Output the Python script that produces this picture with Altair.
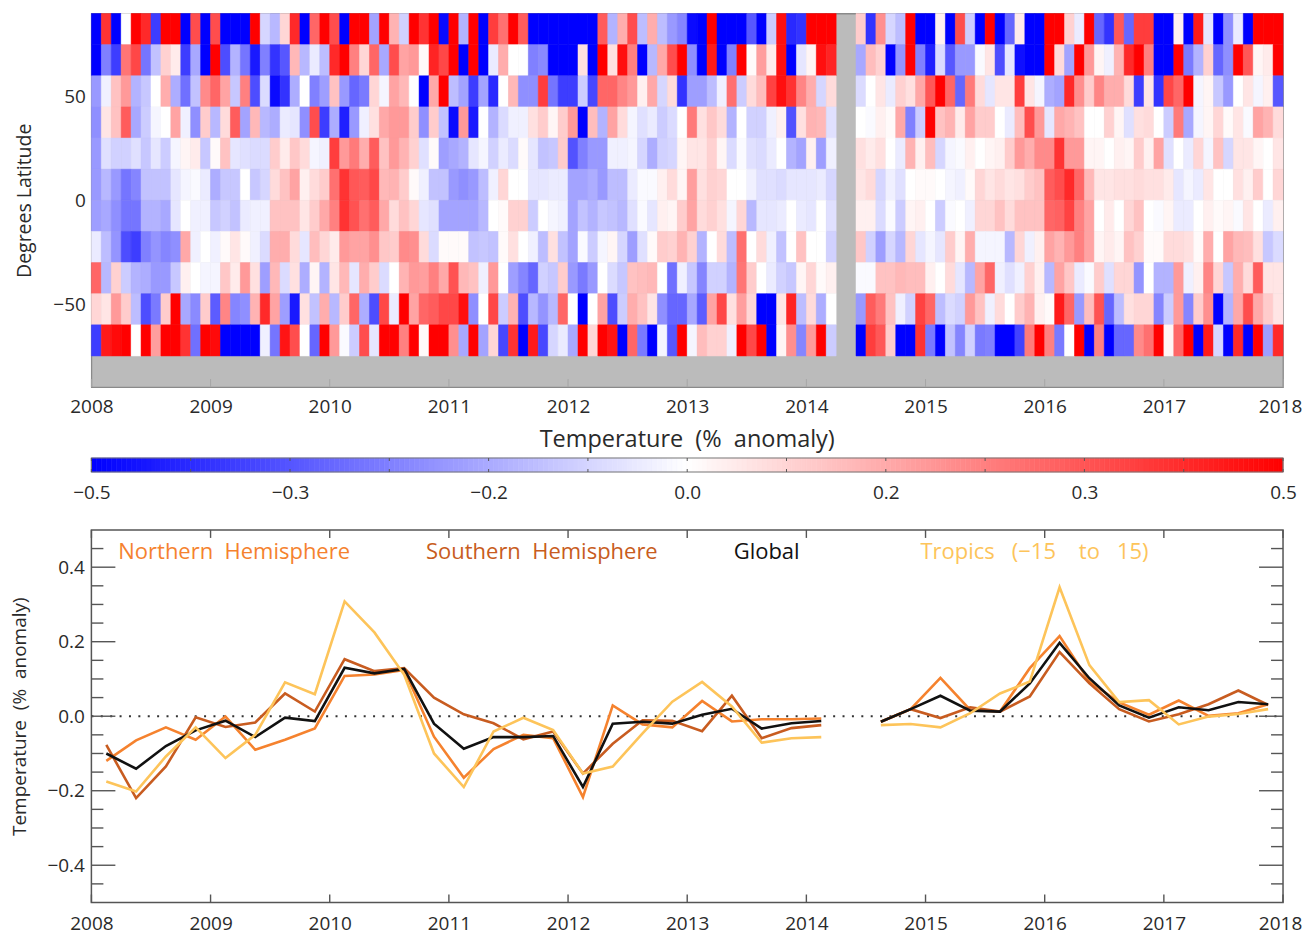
import altair as alt
import numpy as np
import pandas as pd

FONT = "Open Sans"
TXT = "#2a2a2a"
FRAME = "#555555"
W = 1193
NB = "\u00a0\u00a0"
NB3 = "\u00a0\u00a0\u00a0"

GAP = [None, None]
lat_75_90 = [-50,40,-50,0,50,42,-38,50,50,-50,35,-50,35,-50,-50,-50,50,-8,-14,8,42,-50,30,50,35,-50,50,50,-18,50,15,-9,50,40,50,-48,50,-15,50,-50,
 38,28,50,32,-50,-50,-50,-50,-50,-50,-50,32,-15,16,35,-13,16,-13,-20,-24,-48,-50,50,-50,-50,-50,-33,-50,-10,47,-42,-40,50,50,50] + GAP + [
 10,-40,22,-8,-13,50,-50,-50,3,-50,35,-10,-50,50,-50,-30,4,-50,-50,50,50,9,-4,50,-30,-40,33,-30,38,38,-50,-50,3,-50,45,-5,-50,-22,-4,-50,50,50,50]
lat_60_75 = [-50,-25,-38,27,36,-27,-12,9,4,-38,-17,-50,50,-35,-15,-27,-45,-25,-40,-33,14,-14,-4,-13,42,50,25,8,30,-17,35,18,20,1,43,36,50,-50,50,-50,
 -4,16,0,0,-25,-23,-50,-50,-50,6,-50,50,6,47,25,-50,-14,17,35,50,-22,-50,45,-50,-25,50,1,19,4,47,-50,-5,2,47,43] + GAP + [
 -17,13,9,-50,-21,50,-25,-44,-7,-33,-20,-20,-1,5,-35,-5,-47,-50,-50,50,7,-18,50,20,2,-3,15,42,50,25,-50,-50,50,-26,-15,9,-30,-22,50,33,2,4,50]
lat_45_60 = [-20,-3,12,20,-15,-11,0,16,-16,-28,-12,23,30,18,-11,25,-35,-7,-48,-40,-16,0,-25,-19,12,-20,-30,-26,8,-2,18,14,0,-50,17,50,-13,-18,-38,-18,
 -42,0,14,-22,-22,38,-27,-38,-38,-10,-36,30,30,24,20,3,17,-8,7,-40,-19,-19,-13,-3,28,-10,7,13,37,47,40,24,16,-8,7] + GAP + [
 -7,0,5,-4,9,6,17,33,50,30,-30,26,7,-5,5,5,38,5,-2,-16,-18,42,22,10,24,16,16,7,-38,5,-40,36,30,50,-2,2,-11,-20,0,5,-2,3,-33]
lat_30_45 = [-22,5,12,32,-17,-10,-2,0,18,-3,-22,10,-14,7,32,-18,14,-14,-16,-4,-5,-22,35,-38,-16,-44,-20,-3,6,17,20,20,10,-22,10,-12,-48,20,-45,0,
 -15,-7,-3,-3,6,10,2,10,20,-50,13,-15,18,7,-2,-6,-4,-10,-7,0,26,6,11,7,-15,0,-9,-9,-3,3,-34,6,15,14,-6] + GAP + [
 0,-1,3,1,17,-25,-10,50,12,15,4,18,10,10,0,-4,13,35,20,-5,17,15,12,0,0,9,2,-6,6,7,0,-10,26,-17,-2,2,8,1,5,-1,18,15,7]
lat_15_30 = [-20,-6,-9,-9,-6,-11,-5,-10,-2,2,4,-11,1,12,-5,-6,-7,-7,10,4,11,7,-2,-3,38,20,26,16,32,12,20,15,9,-6,1,-19,-17,-15,-5,-2,
 -9,-4,-7,1,-5,-12,-11,10,-34,-25,-20,-20,-3,-3,-2,-8,-16,-9,-8,2,5,5,9,2,-7,-1,-6,-7,-4,0,-15,-18,3,-19,-3] + GAP + [
 6,4,6,0,-4,15,3,13,-8,-2,-1,3,0,2,3,10,20,16,23,23,40,20,20,2,2,0,3,2,10,3,18,-6,0,-4,8,-2,12,-8,5,5,2,0,5]
lat_0_15 = [-20,-14,-20,-27,-24,-12,-12,-12,-5,-2,-1,-4,-16,-11,-11,0,-11,-8,7,12,18,3,7,10,28,40,33,32,36,14,15,10,1,-3,-12,-12,-20,-22,-20,-13,
 -3,8,0,0,-5,-5,-4,-4,-18,-18,-16,-20,-13,-13,-4,-1,-1,3,7,2,19,6,9,8,0,0,-3,-6,-6,-7,-5,-5,-5,-4,-8] + GAP + [
 5,7,-8,-3,-6,0,1,1,0,-2,-3,1,8,5,7,5,6,10,12,32,35,42,30,14,5,5,6,6,7,6,6,4,-5,-2,-4,5,0,0,6,3,10,0,8]
lat_m15_0 = [-19,-17,-22,-27,-27,-15,-15,-17,-5,0,-3,-3,-11,-9,-12,-4,-3,-3,12,12,12,5,10,17,25,40,34,28,32,17,7,12,8,-5,-6,-18,-18,-18,-18,-14,
 0,1,9,9,-10,0,-2,-3,-18,-12,-15,-11,-12,-14,-6,-1,-5,3,2,10,18,7,9,6,-2,8,-14,-5,-5,-4,0,-4,-5,0,-6] + GAP + [
 3,3,-7,-1,-10,2,3,0,-10,-1,0,-3,8,8,12,7,12,12,12,30,31,37,25,18,0,4,0,8,12,0,-1,2,-4,-4,0,3,1,2,-1,5,0,-4,3]
lat_m30_m15 = [-4,-13,-21,-35,-38,-25,-21,-24,-22,17,-3,0,-3,1,5,1,-3,-7,16,16,7,-5,13,8,4,20,18,18,22,11,10,23,22,7,-7,1,1,1,-12,-11,
 -12,1,6,0,-3,-13,6,-12,-18,-1,-10,-2,2,-8,-19,-6,1,10,9,15,9,-15,0,7,-13,28,0,7,-3,-12,0,12,0,0,-9] + GAP + [
 11,-9,-19,-8,-14,8,-5,-2,-5,10,2,16,-2,-2,-2,-14,8,-3,3,18,15,20,25,18,2,4,2,12,9,1,1,7,7,6,1,16,0,18,14,13,6,-11,-7]
lat_m45_m30 = [30,-14,9,-10,-15,-16,-20,-20,-11,3,0,-2,-2,11,4,20,6,-19,14,-7,6,-16,2,-15,5,14,-5,16,10,-7,0,15,20,19,25,17,34,14,12,-3,
 20,0,-19,-24,-30,-9,-11,10,-20,-26,-20,0,-7,-11,12,13,14,0,-28,-3,-11,-24,-9,-9,-15,27,10,0,-4,-9,-11,2,8,1,3] + GAP + [
 -1,-1,12,12,14,13,13,3,0,7,-5,-14,18,30,-3,-6,-3,9,3,-14,18,11,-4,-1,10,-6,8,8,-21,0,-15,-15,20,-3,3,24,8,-11,16,7,32,5,5]
lat_m60_m45 = [8,5,20,10,-13,-35,-26,10,50,-17,-23,10,-32,24,-24,-22,15,42,18,-19,-45,6,-12,16,-14,10,30,-16,-35,36,-4,50,18,30,32,36,36,47,-22,0,
 36,-10,15,-35,-14,-21,-14,30,0,-50,0,18,-35,-10,16,12,5,-22,-30,-30,-17,-32,18,36,6,19,8,-50,-50,5,43,-13,7,-16,0] + GAP + [
 -20,32,26,12,-3,-9,37,30,-13,-7,-9,20,12,-3,7,0,10,15,3,1,45,30,-20,13,34,-30,-13,6,8,8,-24,-10,20,-24,10,22,-50,-15,17,35,17,10,5]
lat_m75_m60 = [-38,45,48,50,0,50,19,50,50,40,-28,50,48,-50,-50,-50,-50,-3,-27,46,35,0,-30,50,20,-1,-10,35,-5,50,50,25,50,1,50,50,22,-17,50,-18,
 8,-36,40,-50,45,-36,-8,-4,-17,50,8,50,46,-50,30,-26,-50,-2,-33,50,-2,13,9,9,-3,50,36,50,-50,2,22,-24,20,50,-10] + GAP + [
 -50,38,33,10,-50,-50,40,-26,-50,-12,-24,-9,-26,-25,-50,-50,-37,26,50,25,-26,0,50,-50,25,-50,-30,-30,23,28,50,2,30,50,-50,45,-8,-50,42,-50,50,-19,42]
lat_m90_m75 = [None] * 120

rows = [
    (75, 90, lat_75_90), (60, 75, lat_60_75), (45, 60, lat_45_60), (30, 45, lat_30_45),
    (15, 30, lat_15_30), (0, 15, lat_0_15), (-15, 0, lat_m15_0), (-30, -15, lat_m30_m15),
    (-45, -30, lat_m45_m30), (-60, -45, lat_m60_m45), (-75, -60, lat_m75_m60), (-90, -75, lat_m90_m75),
]

# quarterly series, first stretch 2008.125..2014.125, second 2014.625..2017.875
nh_a = [-.12,-.065,-.03,-.063,-.001,-.09,-.063,-.033,.108,.112,.124,-.055,-.165,-.088,-.05,-.059,-.217,.029,-.022,-.03,.041,-.014,-.008,-.008,-.006]
sh_a = [-.077,-.22,-.135,-.003,-.029,-.017,.061,.0125,.153,.121,.129,.05,.005,-.019,-.062,-.041,-.154,-.074,-.011,-.0125,-.04,.055,-.059,-.032,-.024]
gl_a = [-.10,-.141,-.08,-.038,-.012,-.056,-.004,-.013,.13,.115,.127,-.02,-.0875,-.056,-.056,-.053,-.19,-.02,-.015,-.02,.004,.02,-.033,-.019,-.013]
tr_a = [-.175,-.202,-.108,-.03,-.1125,-.05,.091,.059,.308,.225,.111,-.1,-.19,-.041,-.004,-.037,-.154,-.135,-.046,.039,.092,.026,-.071,-.059,-.056]
nh_b = [-.015,.019,.103,.017,.0125,.129,.215,.093,.037,.004,.042,.001,.008,.032]
sh_b = [-.015,.019,-.005,.024,.0125,.053,.172,.088,.019,-.014,.005,.032,.069,.030]
gl_b = [-.015,.019,.055,.015,.0125,.088,.197,.102,.029,-.004,.024,.016,.038,.032]
tr_b = [-.024,-.021,-.03,.008,.061,.093,.346,.137,.038,.043,-.022,-.001,.006,.019]

series = [
    ("Northern" + NB + "Hemisphere", "#F5822E", nh_a, nh_b, 2008.226),
    ("Southern" + NB + "Hemisphere", "#C85C20", sh_a, sh_b, 2010.808),
    ("Global", "#111111", gl_a, gl_b, 2013.39),
    ("Tropics" + NB3 + "(\u221215" + NB + NB + "to" + NB3 + "15)", "#FDC45A", tr_a, tr_b, 2014.957),
]
years = list(range(2008, 2019))

cells = []
for lo, hi, vals in rows:
    assert len(vals) == 120, (lo, len(vals))
    for m, v in enumerate(vals):
        if v is not None:
            cells.append({"x": 2008 + m / 12, "x2": 2008 + (m + 1) / 12, "y": lo, "y2": hi, "v": v / 100})
heat_df = pd.DataFrame(cells)

color_scale = alt.Scale(domain=[-0.5, 0, 0.5], range=["#0000ff", "#ffffff", "#ff0000"], clamp=True, interpolate="rgb")
xs = alt.Scale(domain=[2008, 2018], nice=False)


def xaxis(pad):
    return alt.Axis(values=years, format="d", tickSize=0, labelPadding=pad, domain=False, grid=False, title=None,
                    labelFont=FONT, labelFontSize=19, labelColor=TXT, labelFlush=False, labelOverlap=False,
                    labelOffset={"condition": {"test": "datum.value == 2018", "value": -3}, "value": 0})


heat = alt.Chart(heat_df).mark_rect(strokeWidth=0.5).encode(
    x=alt.X("x:Q", scale=xs, axis=xaxis(10)),
    x2="x2:Q",
    y=alt.Y("y:Q", scale=alt.Scale(domain=[-90, 90], nice=False),
            axis=alt.Axis(values=[-50, 0, 50], format="d", tickSize=0, labelPadding=6, domain=False, grid=False,
                          title="Degrees Latitude", titleFont=FONT, titleFontSize=19.5, titleFontWeight="normal",
                          titleColor=TXT, titleX=-57, labelFont=FONT, labelFontSize=19, labelColor=TXT)),
    y2="y2:Q",
    color=alt.Color("v:Q", scale=color_scale, legend=None),
    stroke=alt.Color("v:Q", scale=color_scale, legend=None),
)
heat_ticks = alt.Chart(pd.DataFrame({"t": years})).mark_rule(color="#a6a6a6", strokeWidth=1).encode(
    x=alt.X("t:Q", scale=xs), y=alt.value(374), y2=alt.value(366))
top = alt.layer(heat, heat_ticks).properties(
    width=W, height=374, view=alt.ViewBackground(fill="#bbbbbb", stroke="#8a8a8a", strokeWidth=1.3))

# colour bar: panel is 27 tall, ramp occupies its lower 14 pixels
ramp = np.linspace(-0.5, 0.5, 241)
bar_df = pd.DataFrame({"a": ramp[:-1], "b": ramp[1:], "v": (ramp[:-1] + ramp[1:]) / 2})
bar_xs = alt.Scale(domain=[-0.5, 0.5], nice=False)
bar_labels = [-0.5, -1 / 3, -1 / 6, 0, 1 / 6, 1 / 3, 0.5]
bar_minor = [i / 12 for i in range(-6, 7)]
bar = alt.Chart(bar_df).mark_rect(strokeWidth=0.6).encode(
    x=alt.X("a:Q", scale=bar_xs,
            axis=alt.Axis(values=bar_labels, format=".1f", tickSize=0, labelPadding=12, domain=False, grid=False,
                          title=None, labelFont=FONT, labelFontSize=19, labelColor=TXT,
                          labelFlush=False, labelOverlap=False)),
    x2="b:Q",
    y=alt.value(13), y2=alt.value(27),
    color=alt.Color("v:Q", scale=color_scale, legend=None),
    stroke=alt.Color("v:Q", scale=color_scale, legend=None),
)
bar_frame = alt.Chart(pd.DataFrame({"a": [-0.5], "b": [0.5]})).mark_rect(
    fillOpacity=0, stroke="#777777", strokeWidth=1.2).encode(
    x=alt.X("a:Q", scale=bar_xs), x2="b:Q", y=alt.value(13), y2=alt.value(27))
bar_title = alt.Chart(pd.DataFrame({"a": [0.0], "s": ["Temperature" + NB + "(%" + NB + "anomaly)"]})).mark_text(
    font=FONT, fontSize=23.5, color=TXT, align="center", baseline="middle").encode(
    x=alt.X("a:Q", scale=bar_xs), y=alt.value(-5), text="s:N")
mdf = pd.DataFrame({"t": bar_minor})
bar_t1 = alt.Chart(mdf).mark_rule(color="#555555", strokeWidth=1).encode(
    x=alt.X("t:Q", scale=bar_xs), y=alt.value(13), y2=alt.value(16))
bar_t2 = alt.Chart(mdf).mark_rule(color="#555555", strokeWidth=1).encode(
    x=alt.X("t:Q", scale=bar_xs), y=alt.value(24), y2=alt.value(27))
mid = alt.layer(bar, bar_frame, bar_t1, bar_t2, bar_title).properties(
    width=W, height=27, view=alt.ViewBackground(stroke=None))

# line panel
ys = alt.Scale(domain=[-0.5, 0.5], nice=False)
layers = []
zero = alt.Chart(pd.DataFrame({"y": [0.0]})).mark_rule(color="#333333", strokeWidth=2, strokeDash=[2, 7.4]).encode(
    y=alt.Y("y:Q", scale=ys,
            axis=alt.Axis(values=[-0.4, -0.2, 0, 0.2, 0.4], format=".1f", tickSize=0, labelPadding=7, domain=False,
                          grid=False, title="Temperature" + NB + "(%" + NB + "anomaly)", titleFont=FONT, titleFontSize=19,
                          titleFontWeight="normal", titleColor=TXT, titleX=-62, labelFont=FONT, labelFontSize=19,
                          labelColor=TXT)),
    x=alt.value(0), x2=alt.value(W))
layers.append(zero)

for name, col, a, b, lx in series:
    t_a = [2008.125 + 0.25 * i for i in range(len(a))]
    t_b = [2014.625 + 0.25 * i for i in range(len(b))]
    df = pd.DataFrame({"t": t_a + t_b, "v": a + b, "seg": [0] * len(a) + [1] * len(b)})
    layers.append(alt.Chart(df).mark_line(color=col, strokeWidth=2.6, strokeJoin="miter").encode(
        x=alt.X("t:Q", scale=xs, axis=xaxis(12)), y=alt.Y("v:Q", scale=ys), detail="seg:N"))
    layers.append(alt.Chart(pd.DataFrame({"t": [lx], "v": [0.44], "s": [name]})).mark_text(
        align="left", baseline="middle", font=FONT, fontSize=22, color=col).encode(
        x=alt.X("t:Q", scale=xs), y=alt.Y("v:Q", scale=ys), text="s:N"))

major_y = [-0.4, -0.2, 0.0, 0.2, 0.4]
minor_y = [-0.45, -0.35, -0.3, -0.25, -0.15, -0.1, -0.05, 0.05, 0.1, 0.15, 0.25, 0.3, 0.35, 0.45]
H3 = 373
for vals, ln in ((major_y, 24), (minor_y, 12)):
    d = pd.DataFrame({"y": vals})
    layers.append(alt.Chart(d).mark_rule(color=FRAME, strokeWidth=1.4).encode(
        y=alt.Y("y:Q", scale=ys), x=alt.value(0), x2=alt.value(ln)))
    layers.append(alt.Chart(d).mark_rule(color=FRAME, strokeWidth=1.4).encode(
        y=alt.Y("y:Q", scale=ys), x=alt.value(W), x2=alt.value(W - ln)))
yd = pd.DataFrame({"t": years})
layers.append(alt.Chart(yd).mark_rule(color=FRAME, strokeWidth=1.4).encode(
    x=alt.X("t:Q", scale=xs), y=alt.value(H3), y2=alt.value(H3 - 8)))
layers.append(alt.Chart(yd).mark_rule(color=FRAME, strokeWidth=1.4).encode(
    x=alt.X("t:Q", scale=xs), y=alt.value(0), y2=alt.value(8)))

bottom = alt.layer(*layers).properties(
    width=W, height=H3, view=alt.ViewBackground(stroke=FRAME, strokeWidth=1.5))

chart = alt.vconcat(top, mid, bottom, spacing=58, bounds="flush")
chart = chart.configure(padding={"left": 1.5, "top": 4, "right": 0, "bottom": 2})

chart.save("out.html", embed_options={"renderer": "svg", "actions": False})
